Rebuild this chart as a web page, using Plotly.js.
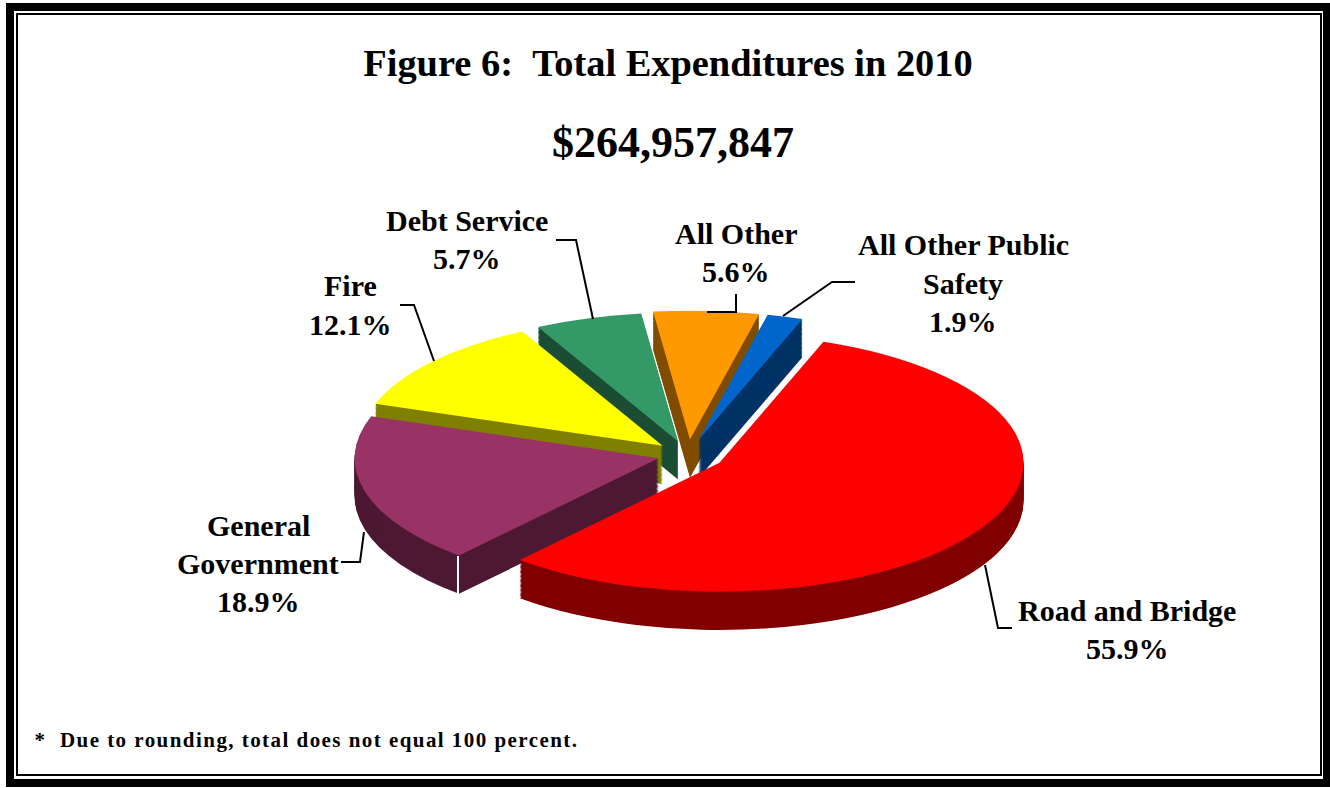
<!DOCTYPE html>
<html>
<head>
<meta charset="utf-8">
<script src="https://cdn.plot.ly/plotly-3.0.1.min.js"></script>
<style>html,body{margin:0;padding:0;background:#fff}#chart{width:1330px;height:788px}</style>
</head>
<body>
<div id="chart"></div>
<script>
// --- data ---
const categories = ['Road and Bridge', 'General Government', 'Fire', 'Debt Service', 'All Other', 'All Other Public Safety'];
const shares = [55.9, 18.9, 12.1, 5.7, 5.6, 1.9];
const explode = [0.12, 0.10, 0.11, 0.11, 0.12, 0.12];
const topColors = ['#FF0000', '#993366', '#FFFF00', '#339966', '#FF9900', '#0066CC'];
const sideColors = ['#800000', '#4D1933', '#808000', '#1A4D33', '#804D00', '#003366'];
const paintOrder = [3, 4, 5, 2, 1, 0];
const titleText = 'Figure 6:\u00A0\u00A0Total Expenditures in 2010';
const totalText = '$264,957,847';
const footnote = '*\u00A0\u00A0Due to rounding, total does not equal 100 percent.';

// label lines: [category index, lines, centre x, first-line centre y]
const labelLines = [
  [0, ['Road and Bridge'], 1127, 610],
  [1, ['General', 'Government'], 258, 525],
  [2, ['Fire'], 350, 286],
  [3, ['Debt Service'], 467, 221],
  [4, ['All Other'], 736, 233],
  [5, ['All Other Public', 'Safety'], 963, 245]
];
const leaders = [
  [[1012,628],[998,628],[985,565]],
  [[341,562],[360,562],[364,532]],
  [[400,305],[414,305],[434,361]],
  [[556,240],[576,240],[593,319]],
  [[707,312],[736,312],[736,294]],
  [[855,282],[832,282],[783,316]]
];

// --- geometry of the tilted, exploded pie ---
const W = 1330, H = 788;
const radius = 304, maxPull = 0.12, rotation = 20;
const centreX = 688, centreY = 455, tilt = 0.424;
const rawCentre = 345, depth = 90, step = 3;
const half = radius * (1 + maxPull);

function pieLayer(sliceIndex, offset, colors) {
  const yc = rawCentre + offset;
  return {
    type: 'pie', labels: categories, values: shares, sort: false, direction: 'clockwise',
    rotation: rotation, pull: explode, textinfo: 'none', hoverinfo: 'skip', showlegend: false,
    domain: {x: [(centreX - half) / W, (centreX + half) / W], y: [1 - (yc + half) / H, 1 - (yc - half) / H]},
    marker: {colors: shares.map((_, i) => i === sliceIndex ? colors[i] : 'rgba(0,0,0,0)'), line: {width: 0}}
  };
}
const traces = [];
paintOrder.forEach(s => {
  for (let d = depth; d > 0; d -= step) traces.push(pieLayer(s, d, sideColors));
  traces.push(pieLayer(s, 0, topColors));
});

const serif = '"Liberation Serif", "Times New Roman", serif';
function text(str, x, y, size) {
  return {text: '<b>' + str + '</b>', x: x / W, y: 1 - y / H, xref: 'paper', yref: 'paper', xanchor: 'center',
          yanchor: 'middle', showarrow: false, font: {family: serif, size: size, color: '#000'}};
}
const annotations = [text(totalText, 673, 143, 44), text(footnote, 306, 740, 21)];
labelLines.forEach(([idx, lines, x, y]) => {
  const all = lines.concat([shares[idx].toFixed(1) + '%']);
  all.forEach((ln, i) => annotations.push(text(ln, x, y + i * 38, 30)));
});

function rect(x0, y0, x1, y1, w) {
  return {type: 'rect', xref: 'paper', yref: 'paper', x0: x0 / W, x1: x1 / W, y0: 1 - y0 / H, y1: 1 - y1 / H,
          line: {color: '#000', width: w}, fillcolor: 'rgba(0,0,0,0)', layer: 'above'};
}
const shapes = [rect(10, 7, 1327, 783, 8), rect(17, 14, 1321, 775, 2)];
leaders.forEach(pts => {
  shapes.push({type: 'path', xref: 'paper', yref: 'paper', layer: 'above', line: {color: '#000', width: 2},
    path: pts.map((p, i) => (i ? 'L' : 'M') + (p[0] / W) + ',' + (1 - p[1] / H)).join(' ')});
});
shapes.push({type: 'line', xref: 'paper', yref: 'paper', layer: 'above', line: {color: '#fff', width: 2},
  x0: 458 / W, x1: 458 / W, y0: 1 - 556 / H, y1: 1 - 594 / H});

const layout = {
  width: W, height: H, margin: {l: 0, r: 0, t: 0, b: 0}, paper_bgcolor: '#fff', showlegend: false,
  title: {text: '<b>' + titleText + '</b>', x: 668 / W, y: 1 - 63 / H, xanchor: 'center', yanchor: 'middle',
          font: {family: serif, size: 38.4, color: '#000'}},
  annotations: annotations, shapes: shapes
};
Plotly.newPlot('chart', traces, layout, {displayModeBar: false, staticPlot: true}).then(gd => {
  const ty = centreY - tilt * rawCentre;
  gd.querySelectorAll('.pielayer').forEach(g => g.setAttribute('transform', 'translate(0,' + ty + ') scale(1,' + tilt + ')'));
  gd.querySelectorAll('.annotation-text').forEach(t => {
    if (t.textContent.indexOf('Due to') >= 0) t.style.letterSpacing = '1.45px';
  });
});
</script>
</body>
</html>
